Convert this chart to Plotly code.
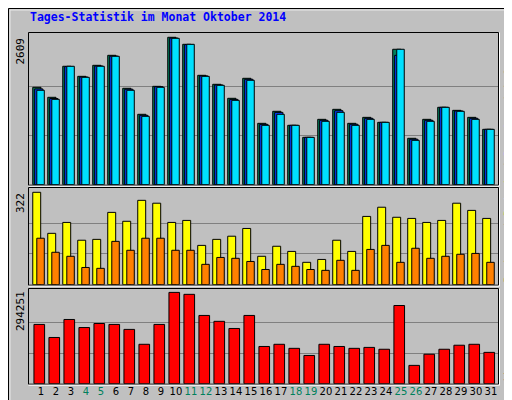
import plotly.graph_objects as go

days = list(range(1, 32))
hits = [1724,1547,2096,1918,2113,2290,1706,1246,1741,2609,2485,1936,1777,1529,1883,1086,1299,1051,838,1157,1334,1086,1192,1104,2397,821,1157,1370,1316,1192,980]
files = [1695,1525,2090,1905,2100,2275,1690,1228,1735,2595,2480,1925,1765,1510,1866,1068,1280,1051,838,1140,1310,1070,1175,1104,2290,805,1140,1370,1305,1175,980]
pages = [1671,1511,2096,1901,2096,2273,1671,1210,1724,2591,2485,1918,1759,1493,1848,1051,1246,1051,838,1122,1281,1051,1157,1104,2397,785,1122,1370,1299,1157,980]
visits = [322,179,217,155,158,252,221,294,284,217,224,137,158,169,196,99,134,116,78,88,155,116,238,270,235,231,217,224,284,259,231]
sites = [162,113,99,60,57,151,120,162,162,120,120,71,95,92,81,53,71,64,53,50,85,50,123,137,78,127,92,99,106,109,78]
kbytes = [191000,149000,207000,181000,194000,191000,175000,127000,191000,294251,288000,220000,201000,178000,220000,120000,127000,114000,91000,127000,120000,114000,117000,111000,252000,59000,95000,111000,124000,127000,101000]
weekend = {4,5,11,12,18,19,25,26}
tick_text = [f'<span style="color:#00805C">{d}</span>' if d in weekend else str(d) for d in days]

W, H = 512, 400
px = lambda x: x / W
py = lambda y: 1 - y / H

fig = go.Figure()
blk = dict(color='black', width=1)
def bar(y, color, xa, ya, off, w):
    fig.add_trace(go.Bar(x=days, y=y, marker=dict(color=color, line=blk), offset=off, width=w,
                         xaxis=xa, yaxis=ya, showlegend=False, hoverinfo='skip'))
bar(hits, '#00805C', 'x', 'y', -0.55, 0.55)
bar(files, '#0040FF', 'x', 'y', -0.42, 0.55)
bar(pages, '#00E0FF', 'x', 'y', -0.28, 0.5)
bar(visits, '#FFFF00', 'x2', 'y2', -0.55, 0.53)
bar(sites, '#FF8000', 'x2', 'y2', -0.28, 0.5)
bar(kbytes, '#FF0000', 'x3', 'y3', -0.47, 0.71)

xr = [0.2, 31.47]
dom_x = [px(21), px(490)]
panels = [(25, 176.7, 2685, 2609), (180, 276.7, 337, 322), (281, 375.7, 305200, 294251)]
layout = dict(width=W, height=H, margin=dict(l=0, r=0, t=0, b=0),
              paper_bgcolor='#C0C0C0', plot_bgcolor='#C0C0C0', barmode='overlay',
              font=dict(family='DejaVu Sans', size=11, color='black'))
for i, (t, b, rng, mx) in enumerate(panels):
    s = '' if i == 0 else str(i + 1)
    layout['xaxis' + s] = dict(domain=dom_x, range=xr, showgrid=False, zeroline=False,
                              anchor='y' + s, ticks='', tickangle=0,
                              showticklabels=(i == 2), tickvals=days, ticktext=tick_text,
                              tickfont=dict(family='DejaVu Sans', size=10, color='black'))
    layout['yaxis' + s] = dict(domain=[py(b), py(t)], range=[0, rng], tickvals=[mx / 3, 2 * mx / 3],
                              showticklabels=False, gridcolor='#808080', gridwidth=1,
                              zeroline=False, anchor='x' + s)
fig.update_layout(**layout)

shapes = [dict(type='rect', xref='paper', yref='paper', x0=px(0.5), x1=px(511.5), y0=py(399.5), y1=py(0.5),
               line=dict(color='black', width=1)),
          dict(type='rect', xref='paper', yref='paper', x0=px(2), x1=px(508), y0=py(396), y1=py(2),
               line=dict(color='#E8E8E8', width=1))]
for (t, b, _, _) in panels:
    shapes.append(dict(type='rect', xref='paper', yref='paper', x0=px(20.5), x1=px(490.5),
                       y0=py(b + 0.5), y1=py(t - 0.5), line=dict(color='black', width=1)))
    shapes.append(dict(type='line', xref='paper', yref='paper', x0=px(491.5), x1=px(491.5),
                       y0=py(b + 1.5), y1=py(t - 0.5), line=dict(color='white', width=1)))
    shapes.append(dict(type='line', xref='paper', yref='paper', x0=px(20.5), x1=px(491.5),
                       y0=py(b + 1.5), y1=py(b + 1.5), line=dict(color='white', width=1)))
fig.update_layout(shapes=shapes)

mono = 'DejaVu Sans Mono'
ann = [dict(text='<b>Tages-Statistik im Monat Oktober 2014</b>', x=px(20), y=py(9), xanchor='left',
            yanchor='middle', font=dict(family=mono, size=11.5, color='#0000FF')),
       dict(text='2609', x=px(12), y=py(28), xanchor='center', yanchor='top', textangle=-90, font=dict(family=mono, size=11)),
       dict(text='322', x=px(12), y=py(183), xanchor='center', yanchor='top', textangle=-90, font=dict(family=mono, size=11)),
       dict(text='294251', x=px(12), y=py(281), xanchor='center', yanchor='top', textangle=-90, font=dict(family=mono, size=11)),
       dict(text='<span style="color:#00E0FF">Seiten</span><span style="color:#606060"> / </span>'
                 '<span style="color:#0080FF">Dateien</span><span style="color:#606060"> / </span>'
                 '<span style="color:#00805C">Anfragen</span>',
            x=px(500), y=py(27), xanchor='center', yanchor='top', textangle=-90, font=dict(family=mono, size=11)),
       dict(text='<span style="color:#FF8000">Rechner</span><span style="color:#606060"> / </span>'
                 '<span style="color:#FFFF00">Besuche</span>',
            x=px(500), y=py(277), xanchor='center', yanchor='bottom', textangle=-90, font=dict(family=mono, size=11)),
       dict(text='kb', x=px(500), y=py(376), xanchor='center', yanchor='bottom', textangle=-90,
            font=dict(family=mono, size=11, color='#FF0000'))]
for a in ann:
    a.update(xref='paper', yref='paper', showarrow=False)
fig.update_layout(annotations=ann)
fig.write_html('out.html')
